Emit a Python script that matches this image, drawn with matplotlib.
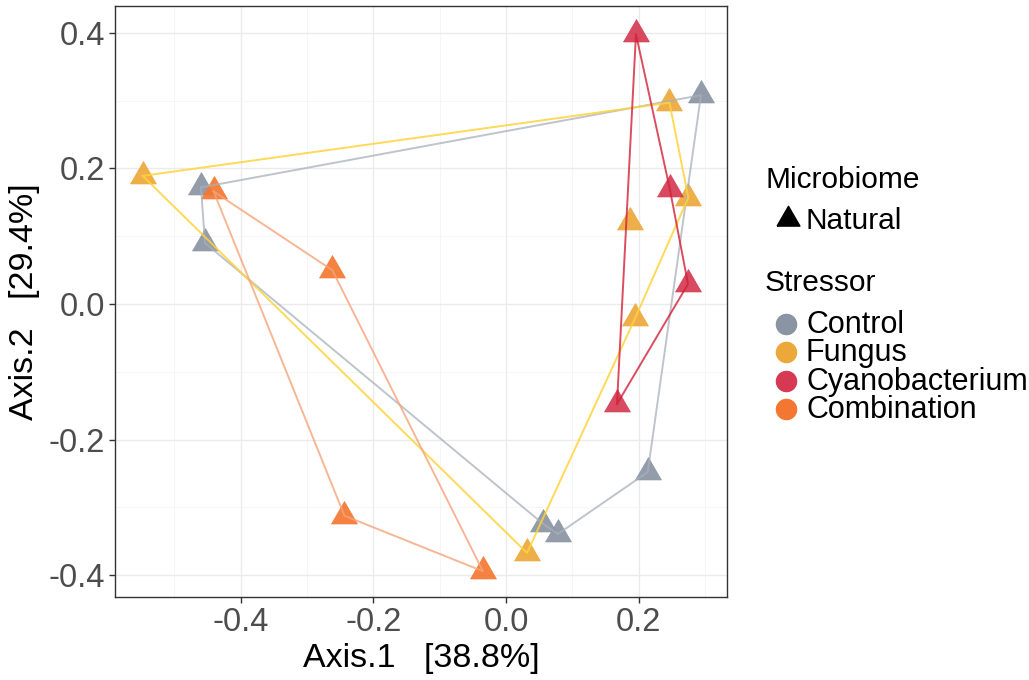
import matplotlib
matplotlib.use("Agg")
import matplotlib.pyplot as plt
from matplotlib.lines import Line2D
from matplotlib.ticker import MultipleLocator
import numpy as np

plt.rcParams['font.family'] = ['Liberation Sans', 'DejaVu Sans']

# PCoA coordinates per stressor group (Axis.1, Axis.2)
stressors = ["Control", "Fungus", "Cyanobacterium", "Combination"]
control_x = [0.294, -0.460, -0.454, 0.0558, 0.0784, 0.2137]
control_y = [0.308, 0.172, 0.090, -0.324, -0.339, -0.2478]
fungus_x = [-0.548, 0.2465, 0.275, 0.1875, 0.195, 0.0317]
fungus_y = [0.189, 0.297, 0.157, 0.121, -0.0202, -0.367]
cyano_x = [0.196, 0.247, 0.2745, 0.1674]
cyano_y = [0.398, 0.170, 0.0295, -0.1475]
combo_x = [-0.441, -0.262, -0.2436, -0.0348]
combo_y = [0.166, 0.050, -0.3122, -0.394]

point_colors = ["#8A94A2", "#EDA83A", "#D53A52", "#F47731"]
hull_colors = ["#A9B0BB", "#FFD33A", "#D42038", "#F6A47A"]
hull_alpha = [0.75, 0.85, 0.8, 0.8]

xs = [control_x, fungus_x, cyano_x, combo_x]
ys = [control_y, fungus_y, cyano_y, combo_y]

axis1_label = "Axis.1   [38.8%]"
axis2_label = "Axis.2   [29.4%]"


def convex_hull(px, py):
    pts = sorted(zip(px, py))

    def cross(o, a, b):
        return (a[0] - o[0]) * (b[1] - o[1]) - (a[1] - o[1]) * (b[0] - o[0])

    lower, upper = [], []
    for p in pts:
        while len(lower) >= 2 and cross(lower[-2], lower[-1], p) <= 0:
            lower.pop()
        lower.append(p)
    for p in reversed(pts):
        while len(upper) >= 2 and cross(upper[-2], upper[-1], p) <= 0:
            upper.pop()
        upper.append(p)
    hull = lower[:-1] + upper[:-1]
    hull.append(hull[0])
    return np.array(hull)


# equilateral triangle centred on its centroid
tri = [(-1.0, -0.57735), (1.0, -0.57735), (0.0, 1.1547), (-1.0, -0.57735)]

fig = plt.figure(figsize=(10.29, 6.80), dpi=100)
ax = fig.add_axes([115 / 1029, 1 - 597 / 680, (727 - 115) / 1029, (597 - 6) / 680])

for x, y, pc in zip(xs, ys, point_colors):
    ax.plot(x, y, linestyle="none", marker=tri, markersize=21.5,
            markerfacecolor=pc, markeredgecolor=pc, markeredgewidth=0.5,
            alpha=0.92, zorder=3)

for x, y, hc, ha in zip(xs, ys, hull_colors, hull_alpha):
    h = convex_hull(x, y)
    ax.plot(h[:, 0], h[:, 1], color=hc, lw=1.4, alpha=ha, zorder=4,
            solid_joinstyle="round")

ax.set_xlim(-0.5897, 0.3333)
ax.set_ylim(-0.432, 0.4395)
ax.xaxis.set_minor_locator(MultipleLocator(0.1))
ax.yaxis.set_minor_locator(MultipleLocator(0.1))
ax.set_xticks([-0.4, -0.2, 0.0, 0.2])
ax.set_xticklabels(["-0.4", "-0.2", "0.0", "0.2"])
ax.set_yticks([-0.4, -0.2, 0.0, 0.2, 0.4])
ax.set_yticklabels(["-0.4", "-0.2", "0.0", "0.2", "0.4"])

ax.grid(which="major", color="#EBEBEB", lw=1.0, zorder=0)
ax.grid(which="minor", color="#F5F5F5", lw=0.6, zorder=0)
ax.set_axisbelow(True)
ax.tick_params(which="major", length=4, width=1, color="#333333",
               labelsize=23.5, labelcolor="#4D4D4D", pad=3)
ax.tick_params(which="minor", length=0)
for s in ax.spines.values():
    s.set_color("#333333")
    s.set_linewidth(1.0)

ax.set_xlabel(axis1_label, fontsize=24.5, color="black", labelpad=4)
ax.set_ylabel(axis2_label, fontsize=24.5, color="black", labelpad=6)

# legends
W, H = 1029.0, 680.0


def fx(px):
    return px / W


def fy(py):
    return 1 - py / H


fig.text(fx(765), fy(180), "Microbiome", fontsize=21.5, va="center", ha="left")
fig.add_artist(Line2D([fx(788)], [fy(219)], marker=tri, markersize=19,
                      color="black", linestyle="none", transform=fig.transFigure))
fig.text(fx(806), fy(221), "Natural", fontsize=21.5, va="center", ha="left")

fig.text(fx(765), fy(283), "Stressor", fontsize=21.5, va="center", ha="left")
item_y = [324, 352, 381, 409]
for name, pc, yy in zip(stressors, point_colors, item_y):
    fig.add_artist(Line2D([fx(786)], [fy(yy)], marker="o", markersize=14.5,
                          color=pc, linestyle="none", transform=fig.transFigure))
    fig.text(fx(806), fy(yy + 1), name, fontsize=22, va="center", ha="left")

fig.savefig("out.png", dpi=100)
